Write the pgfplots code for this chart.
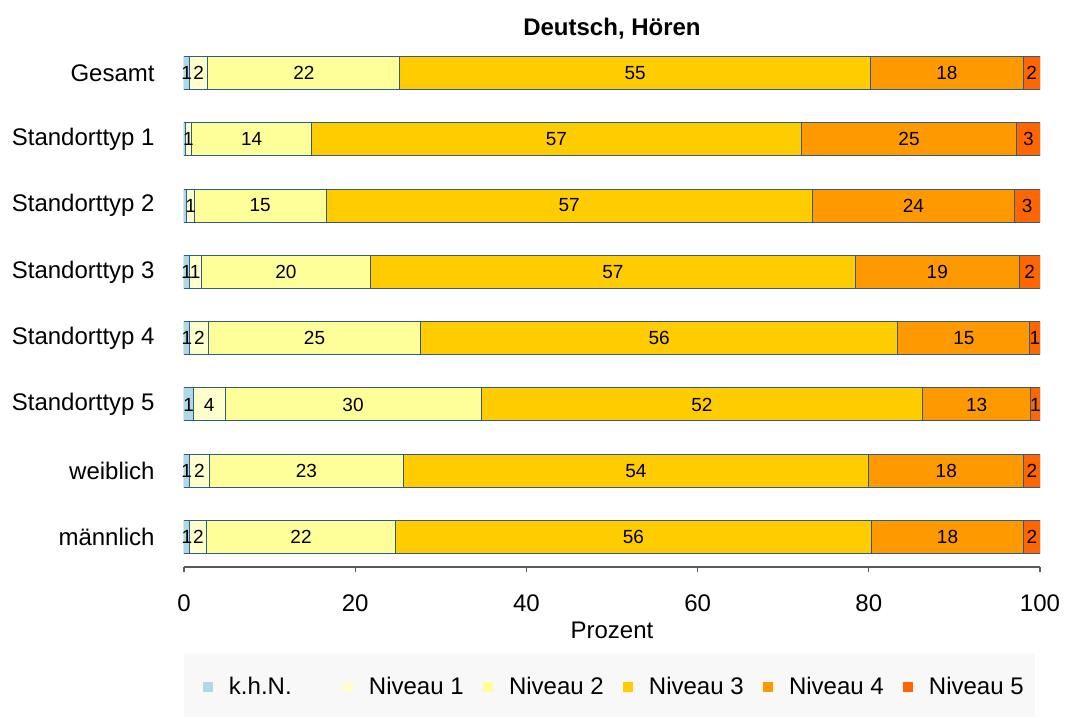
\documentclass[border=0pt]{standalone}
\usepackage{pgfplots}
\pgfplotsset{compat=1.18}
\usepackage{pgfplotstable}
\usepackage{fontspec}
\setmainfont{Liberation Sans}

\definecolor{khn}{HTML}{ADD8E6}
\definecolor{nivA}{HTML}{FFFFCC}
\definecolor{nivB}{HTML}{FFFF99}
\definecolor{nivC}{HTML}{FFCC00}
\definecolor{nivD}{HTML}{FF9900}
\definecolor{nivE}{HTML}{FF6600}
\definecolor{edge}{HTML}{2E5C8A}
\definecolor{legbg}{HTML}{F8F8F8}

% pos 7 = Gesamt (top) ... 0 = maennlich (bottom)
\pgfplotstableread{
pos k    n1   n2    n3   n4    n5
7   0.6  2.2  22.4  55.0 17.85 1.95
6   0.15 0.75 14.0  57.2 25.2  2.7
5   0.35 0.85 15.4  56.8 23.6  3.0
4   0.6  1.4  19.8  56.6 19.2  2.4
3   0.7  2.2  24.7  55.8 15.4  1.2
2   1.1  3.7  29.9  51.6 12.6  1.1
1   0.6  2.4  22.6  54.4 18.1  1.9
0   0.7  1.95 22.05 55.6 17.8  1.9
}\hoeren

\begin{document}
\begin{tikzpicture}
\pgfplotsset{
  base/.style={
    scale only axis, width=428pt, height=262pt,
    xmin=0, xmax=100, ymin=-0.45, ymax=7.45,
    /pgf/number format/assume math mode=true,
  },
  seg/.style={draw=edge, line width=0.5pt, fill=#1,
    legend image code/.code={\fill[##1, draw=none] (0pt,-2.5pt) rectangle (5pt,2.5pt);}},
  lab/.style={draw=none, mark=none, point meta=explicit,
    nodes near coords={\pgfmathprintnumber[fixed,precision=0]{\pgfplotspointmeta}},
    every node near coord/.append style={anchor=center, inner sep=0pt,
      font=\fontsize{9.5}{11}\selectfont, text=black}},
}
\begin{axis}[base,
  xbar stacked, bar width=16.5pt,
  axis x line*=bottom, axis y line*=left,
  y axis line style={draw=none},
  x axis line style={draw=black!65, line width=0.6pt},
  xtick={0,20,...,100}, ytick={0,...,7},
  yticklabels={männlich, weiblich, Standorttyp 5, Standorttyp 4, Standorttyp 3, Standorttyp 2, Standorttyp 1, Gesamt},
  tick align=outside, major tick length=2.5pt,
  xtick style={draw=black!65, line width=0.6pt},
  ytick style={draw=none},
  tick label style={font=\fontsize{12}{14}\selectfont},
  xticklabel style={anchor=center, yshift=-15.5pt},
  yticklabel style={anchor=east, inner sep=0pt, xshift=-12pt},
  xlabel={Prozent},
  xlabel style={at={(axis description cs:0.5,0)}, anchor=center, yshift=-31.5pt, font=\fontsize{12}{14}\selectfont},
  title={Deutsch, Hören},
  title style={at={(axis description cs:0.5,1)}, anchor=center, yshift=1pt, font=\fontsize{12}{14}\selectfont\bfseries},
  legend columns=6,
  legend style={at={(0,0)}, anchor=north west, yshift=-43pt,
    draw=none, fill=legbg, inner xsep=9.5pt, inner ysep=12pt, outer sep=0pt,
    column sep=0pt, nodes={inner sep=0pt},
    font=\fontsize{12}{14}\selectfont},
]
\addplot[seg=khn]  table[x=k,  y=pos] {\hoeren};
\addlegendentry{\makebox[65pt][l]{\hspace*{8pt}k.h.N.}}
\addplot[seg=nivA] table[x=n1, y=pos] {\hoeren};
\addlegendentry{\makebox[65pt][l]{\hspace*{8pt}Niveau 1}}
\addplot[seg=nivB] table[x=n2, y=pos] {\hoeren};
\addlegendentry{\makebox[65pt][l]{\hspace*{8pt}Niveau 2}}
\addplot[seg=nivC] table[x=n3, y=pos] {\hoeren};
\addlegendentry{\makebox[65pt][l]{\hspace*{8pt}Niveau 3}}
\addplot[seg=nivD] table[x=n4, y=pos] {\hoeren};
\addlegendentry{\makebox[65pt][l]{\hspace*{8pt}Niveau 4}}
\addplot[seg=nivE] table[x=n5, y=pos] {\hoeren};
\addlegendentry{\makebox[51.5pt][l]{\hspace*{8pt}Niveau 5}}
\end{axis}

% segment labels, centred in each segment
\begin{axis}[base, hide axis]
\addplot[lab, restrict expr to domain={\thisrow{k}}{0.5:1000}]
  table[x expr=\thisrow{k}/2, y=pos, meta=k] {\hoeren};
\addplot[lab, restrict expr to domain={\thisrow{n1}}{0.5:1000}]
  table[x expr=\thisrow{k}+\thisrow{n1}/2, y=pos, meta=n1] {\hoeren};
\addplot[lab]
  table[x expr=\thisrow{k}+\thisrow{n1}+\thisrow{n2}/2, y=pos, meta=n2] {\hoeren};
\addplot[lab]
  table[x expr=\thisrow{k}+\thisrow{n1}+\thisrow{n2}+\thisrow{n3}/2, y=pos, meta=n3] {\hoeren};
\addplot[lab]
  table[x expr=\thisrow{k}+\thisrow{n1}+\thisrow{n2}+\thisrow{n3}+\thisrow{n4}/2, y=pos, meta=n4] {\hoeren};
\addplot[lab]
  table[x expr=100-\thisrow{n5}/2, y=pos, meta=n5] {\hoeren};
\end{axis}

\pgfresetboundingbox
\path (-92pt,-75pt) rectangle (440.5pt,283.5pt);
\end{tikzpicture}
\end{document}
